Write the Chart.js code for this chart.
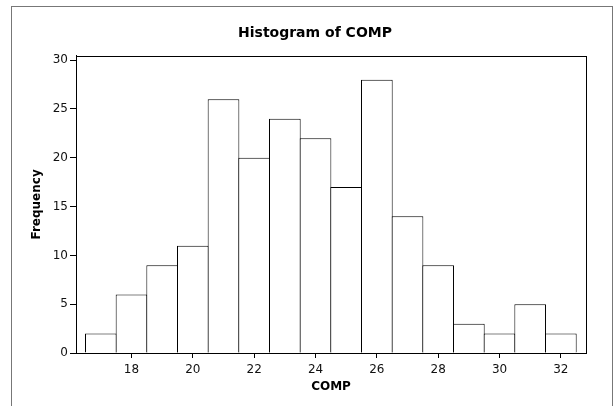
<!DOCTYPE html>
<html>
  <head>
    <title>Histogram of COMP</title>
    <script src="https://cdn.jsdelivr.net/npm/chart.js"></script>
    <style>
      body {
        margin: 0;
        background: white;
        overflow: hidden;
      }
      .frame {
        position: absolute;
        left: 11px;
        top: 6px;
        width: 600px;
        height: 420px;
        border: 1px solid #777;
      }
      canvas {
        position: absolute;
        left: 0;
        top: 0;
      }
    </style>
  </head>
  <body>
    <div class="frame"></div>
    <canvas id="histChart" width="615" height="406"></canvas>

    <script>
      // bin centres and counts
      const bins = [17, 18, 19, 20, 21, 22, 23, 24, 25, 26, 27, 28, 29, 30, 31, 32];
      const counts = [2, 6, 9, 11, 26, 20, 24, 22, 17, 28, 14, 9, 3, 2, 5, 2];
      const xTicks = [18, 20, 22, 24, 26, 28, 30, 32];
      const yTicks = [0, 5, 10, 15, 20, 25, 30];

      const family = "'DejaVu Sans', Verdana, sans-serif";

      // box around the plot area
      const plotFrame = {
        id: "plotFrame",
        afterDraw(chart) {
          const { ctx, chartArea: a } = chart;
          ctx.save();
          ctx.strokeStyle = "#000";
          ctx.lineWidth = 1;
          ctx.strokeRect(
            Math.round(a.left) + 0.5,
            Math.round(a.top) + 0.5,
            Math.round(a.right - a.left),
            Math.round(a.bottom - a.top)
          );
          ctx.restore();
        },
      };

      const ctx = document.getElementById("histChart").getContext("2d");
      new Chart(ctx, {
        type: "bar",
        data: {
          datasets: [
            {
              data: bins.map((b, i) => ({ x: b, y: counts[i] })),
              backgroundColor: "#fff",
              borderColor: "#000",
              borderWidth: 1,
              barPercentage: 1.033,
              categoryPercentage: 1,
            },
          ],
        },
        options: {
          responsive: false,
          animation: false,
          layout: { padding: { left: 44, right: 29, top: 25, bottom: 12 } },
          plugins: {
            legend: { display: false },
            tooltip: { enabled: false },
            title: {
              display: true,
              text: "Histogram of COMP",
              color: "#000",
              font: { family: family, size: 14, weight: "bold" },
              padding: { top: 0, bottom: 14 },
            },
          },
          scales: {
            x: {
              type: "linear",
              min: 16.19,
              max: 32.82,
              offset: false,
              afterBuildTicks: (s) => {
                s.ticks = xTicks.map((v) => ({ value: v }));
              },
              afterFit: (s) => {
                s.height = 41;
              },
              grid: {
                offset: false,
                drawOnChartArea: false,
                drawTicks: true,
                tickLength: 5,
                color: "#000",
              },
              border: { color: "#000" },
              ticks: {
                color: "#111",
                padding: 5,
                maxRotation: 0,
                font: { family: family, size: 12 },
              },
              title: {
                display: true,
                text: "COMP",
                color: "#000",
                font: { family: family, size: 12, weight: "bold" },
                padding: { top: 0, bottom: 0 },
              },
            },
            y: {
              min: 0,
              max: 30.45,
              afterBuildTicks: (s) => {
                s.ticks = yTicks.map((v) => ({ value: v }));
              },
              afterFit: (s) => {
                s.width = 32;
              },
              grid: {
                drawOnChartArea: false,
                drawTicks: true,
                tickLength: 6,
                color: "#000",
              },
              border: { color: "#000" },
              ticks: {
                color: "#111",
                padding: 2,
                font: { family: family, size: 12 },
              },
              title: {
                display: true,
                text: "Frequency",
                color: "#000",
                font: { family: family, size: 12, weight: "bold" },
                padding: { top: -14, bottom: 0 },
              },
            },
          },
        },
        plugins: [plotFrame],
      });
    </script>
  </body>
</html>
